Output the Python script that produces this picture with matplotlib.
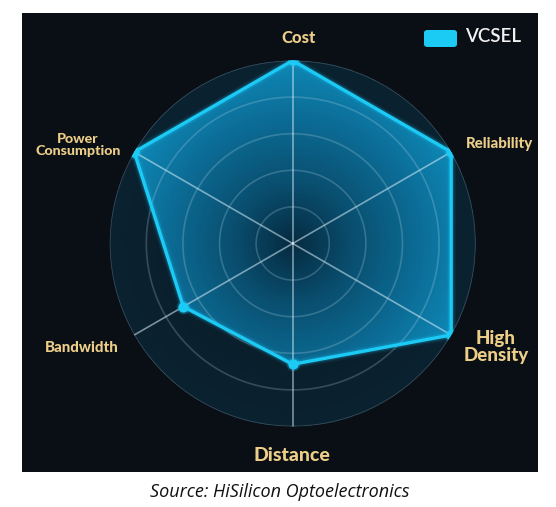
import numpy as np
import matplotlib
matplotlib.use("Agg")
import matplotlib.pyplot as plt
from matplotlib.colors import LinearSegmentedColormap
from matplotlib.patches import Rectangle, FancyBboxPatch

# ---- data ----
categories = ["Cost", "Reliability", "High\nDensity", "Distance", "Bandwidth", "Power\nConsumption"]
series_name = "VCSEL"
values = [1.0, 1.0, 1.0, 0.66, 0.69, 1.0]
ring_levels = [0.2, 0.4, 0.6, 0.8, 1.0]

W, H = 556, 507
fig = plt.figure(figsize=(W / 100, H / 100), dpi=100)
fig.patch.set_facecolor("white")

def fx(px):
    return px / W

def fy(py):
    return 1 - py / H

# dark panel
fig.add_artist(Rectangle((fx(22), fy(472)), fx(538) - fx(22), fy(13) - fy(472),
                         transform=fig.transFigure, facecolor="#0a0e15", edgecolor="none", zorder=0))

cx, cy, R = 292.7, 243.5, 183
ax = fig.add_axes([fx(cx - R), fy(cy + R), 2 * R / W, 2 * R / H], projection="polar")
ax.set_theta_offset(np.pi / 2)
ax.set_theta_direction(-1)
ax.set_ylim(0, 1.0)
ax.set_facecolor("none")
ax.spines["polar"].set_visible(False)
ax.grid(False)
ax.set_xticks([])
ax.set_yticks([])

n = len(categories)
angles = np.arange(n) * 2 * np.pi / n

# background radial gradient inside outer circle
tg = np.linspace(0, 2 * np.pi, 361)
rg = np.linspace(0, 1.0, 101)
T, Rr = np.meshgrid(tg, rg)
C = 0.5 * (Rr[:-1, :-1] + Rr[1:, 1:])
bg_cmap = LinearSegmentedColormap.from_list("bg", ["#071620", "#081a26", "#0a1f2c", "#0a2130"])
ax.pcolormesh(T, Rr, C, cmap=bg_cmap, vmin=0, vmax=1, shading="flat", zorder=1, rasterized=True)

# polygon fill with radial gradient
th = np.concatenate([angles, angles[:1]])
vv = np.concatenate([values, values[:1]])
poly = ax.fill(th, vv, facecolor="none", edgecolor="none", zorder=2)[0]
fill_cmap = LinearSegmentedColormap.from_list("fill", ["#052a40", "#094e6f", "#0b6a93", "#0e87b6"])
mesh = ax.pcolormesh(T, Rr, C, cmap=fill_cmap, vmin=0, vmax=1, shading="flat", zorder=2, rasterized=True)
mesh.set_clip_path(poly)

# rings
tf = np.linspace(0, 2 * np.pi, 400)
for lv in ring_levels:
    ax.plot(tf, np.full_like(tf, lv), color="#cfe6f2", alpha=0.22, lw=1.2, zorder=3)

# spokes
for a in angles:
    ax.plot([a, a], [0, 1.0], color="#d8eef8", alpha=0.55, lw=1.2, zorder=3)

# polygon outline with soft glow
for lw, al in [(7, 0.07), (4.5, 0.18)]:
    ax.plot(th, vv, color="#19c6f2", lw=lw, alpha=al, zorder=4, solid_joinstyle="round")
ax.plot(th, vv, color="#1ccbf5", lw=2.4, zorder=5, solid_joinstyle="round")
ax.scatter(angles, values, s=100, color="#19c6f2", alpha=0.25, zorder=5, linewidths=0)
ax.scatter(angles, values, s=55, color="#1ccbf5", zorder=6, linewidths=0)

# category labels (pixel positions)
gold = "#ecce88"
lab_font = ["Lato", "Open Sans", "DejaVu Sans"]
label_style = [
    (298.5, 43, 12, "baseline", 1.0),
    (499.5, 148, 10.8, "baseline", 1.0),
    (496, 347, 13.5, "center", 0.95),
    (291.5, 461, 14, "baseline", 1.0),
    (81.5, 352, 10.8, "baseline", 1.0),
    (78, 145, 10.3, "center", 0.95),
]
for lab, (x, y, fs, va, ls) in zip(categories, label_style):
    fig.text(fx(x), fy(y), lab, color=gold, fontsize=fs, fontweight="black", ha="center",
             va=va, family=lab_font, linespacing=ls, multialignment="center")

# legend
fig.add_artist(FancyBboxPatch((fx(424), fy(47)), fx(457) - fx(424), fy(30) - fy(47),
                              boxstyle="round,pad=0.0,rounding_size=0.006",
                              transform=fig.transFigure, facecolor="#1ccbf3", edgecolor="none", zorder=5))
fig.text(fx(465), fy(42), series_name, color="#f2f2f2", fontsize=13.5, ha="left", va="baseline",
         family=lab_font, fontweight="semibold")

# caption
fig.text(fx(280), fy(497), "Source: HiSilicon Optoelectronics", color="#111111", fontsize=13,
         style="italic", ha="center", va="baseline", family=["Open Sans", "DejaVu Sans"])

fig.savefig("out.png", dpi=100, facecolor=fig.get_facecolor())
